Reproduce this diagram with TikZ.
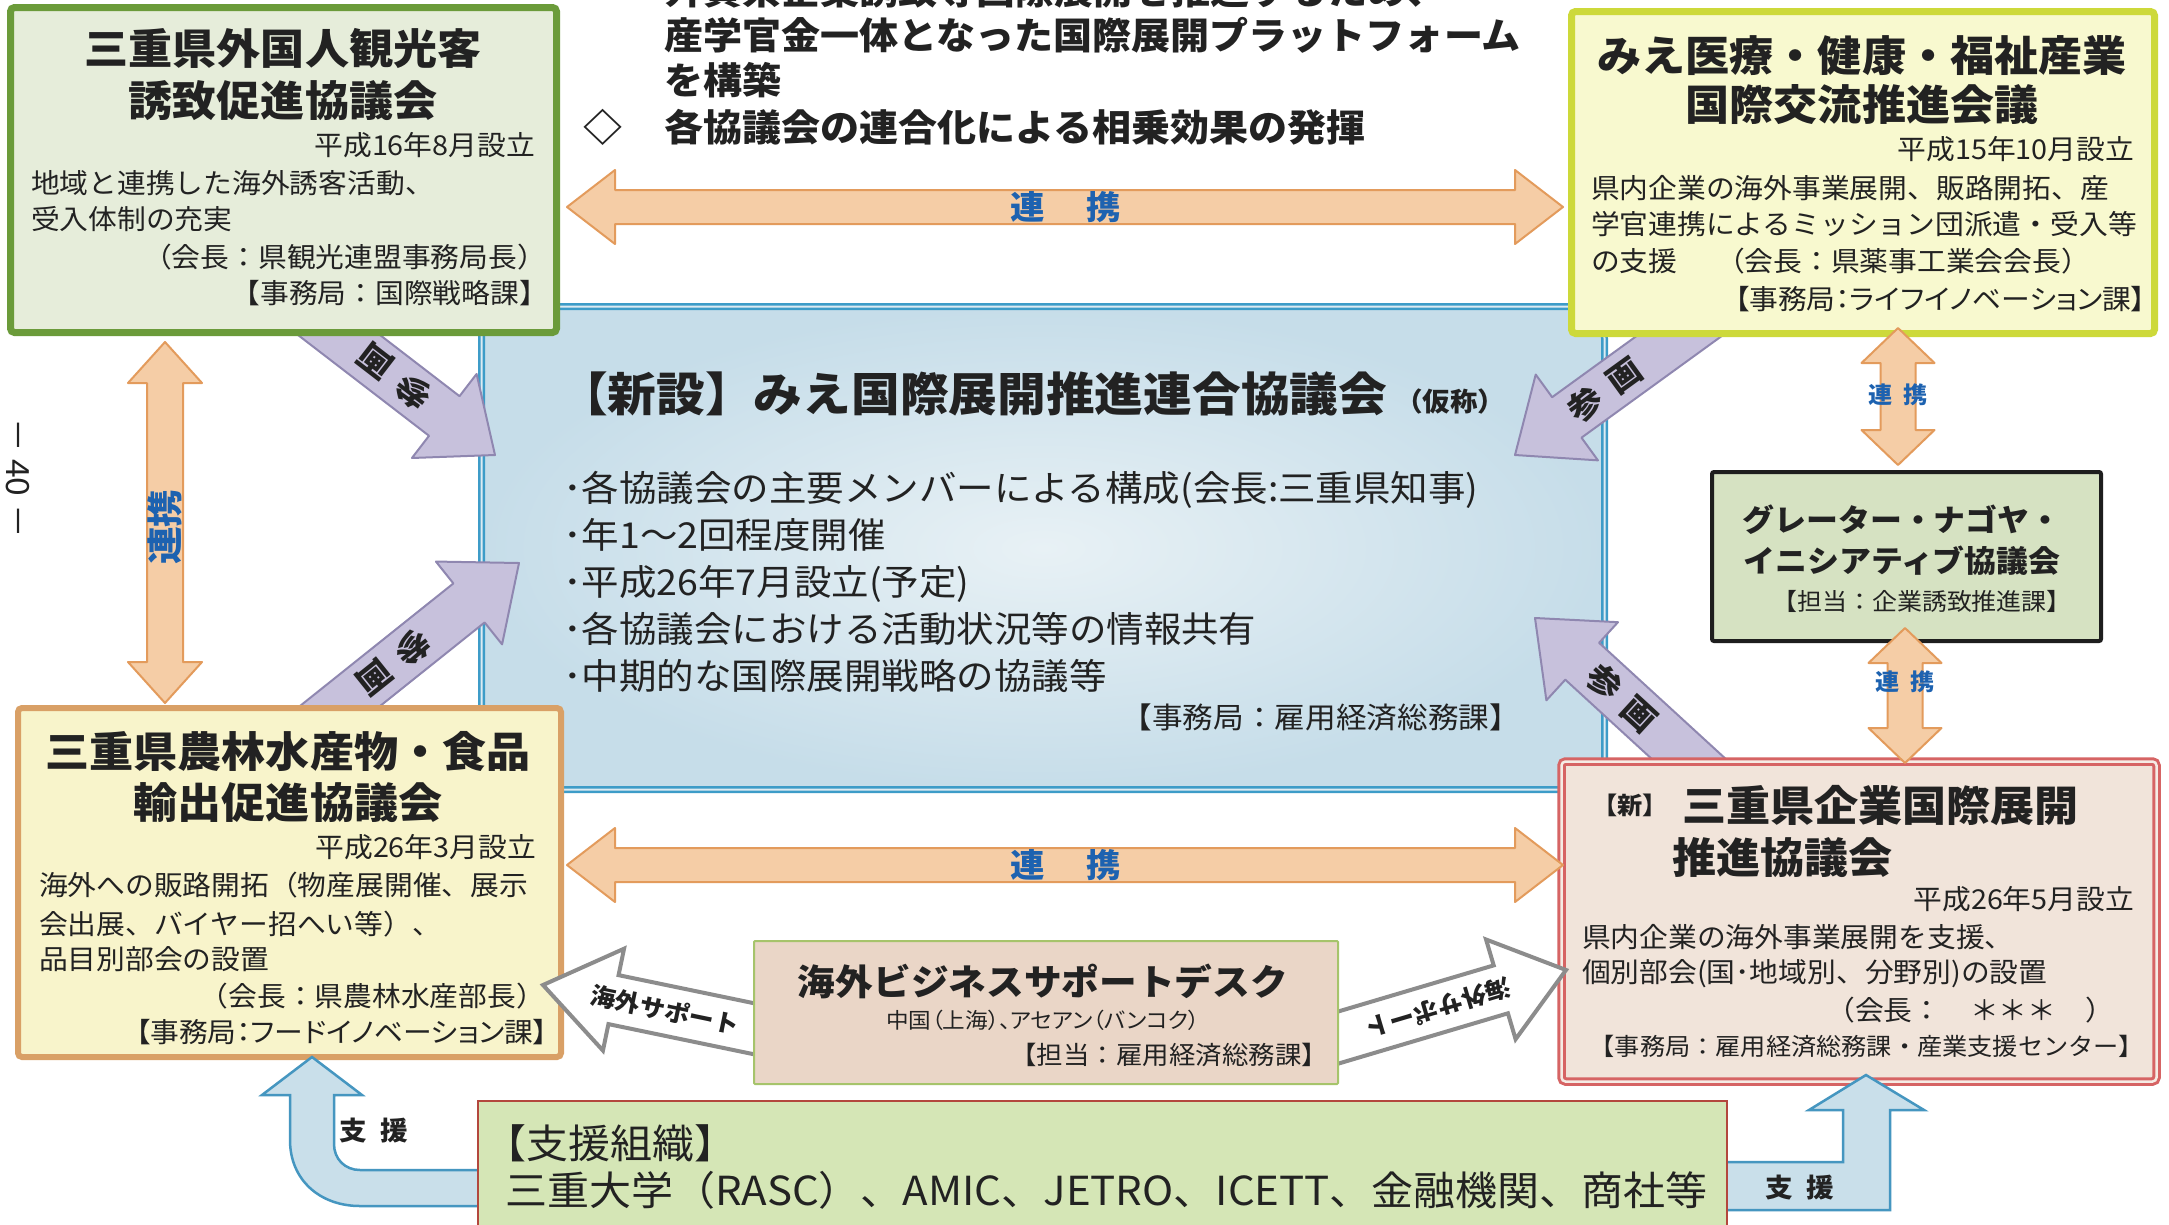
\documentclass[tikz,border=0pt]{standalone}
\usepackage{fontspec}
\newfontfamily\jp[FakeStretch=1.05]{Noto Sans CJK JP}
\newfontfamily\jpp[FakeStretch=1.05,RawFeature=+palt]{Noto Sans CJK JP}
\usetikzlibrary{calc}
\newcommand\fs[1]{\fontsize{#1}{#1}\selectfont}
\definecolor{ink}{HTML}{222222}
\definecolor{lblue}{HTML}{1D62B0}
\definecolor{b1d}{HTML}{6B9B3A}\definecolor{b1f}{HTML}{E6EDDA}
\definecolor{b2d}{HTML}{CDD93A}\definecolor{b2f}{HTML}{F8F9CF}
\definecolor{b3d}{HTML}{D9A066}\definecolor{b3f}{HTML}{F8F4CB}
\definecolor{b4d}{HTML}{D66464}\definecolor{b4f}{HTML}{F1E4DA}
\definecolor{ngd}{HTML}{1E1E1E}\definecolor{ngf}{HTML}{D6E2C2}
\definecolor{dkd}{HTML}{A6C46B}\definecolor{dkf}{HTML}{EAD6C7}
\definecolor{spd}{HTML}{B3473D}\definecolor{spf}{HTML}{D5E6B6}
\definecolor{cend}{HTML}{3D9CC8}\definecolor{cenin}{HTML}{E8F1F5}\definecolor{cenout}{HTML}{C6DDE9}
\definecolor{orf}{HTML}{F5CDA6}\definecolor{ord}{HTML}{E39B5C}
\definecolor{puf}{HTML}{C7C1DC}\definecolor{pud}{HTML}{8F87B0}
\definecolor{whd}{HTML}{8C8C8C}
\definecolor{blf}{HTML}{C9DFEA}\definecolor{bld}{HTML}{4596C0}
% single block arrow: style, name, tail, tip, shaft half width, head half width, head length
\newcommand\blockarrow[7]{%
  \coordinate (#2-h) at ($(#4)!#7!(#3)$);
  \draw[#1] ($(#3)!#5!90:(#4)$) -- ($(#2-h)!#5!90:(#4)$) -- ($(#2-h)!#6!90:(#4)$) -- (#4)
    -- ($(#2-h)!#6!-90:(#4)$) -- ($(#2-h)!#5!-90:(#4)$) -- ($(#3)!#5!-90:(#4)$) -- cycle;}
% double block arrow
\newcommand\dblarrow[7]{%
  \coordinate (#2-ha) at ($(#3)!#7!(#4)$);
  \coordinate (#2-hb) at ($(#4)!#7!(#3)$);
  \draw[#1] (#3) -- ($(#2-ha)!#6!90:(#4)$) -- ($(#2-ha)!#5!90:(#4)$) -- ($(#2-hb)!#5!-90:(#3)$)
    -- ($(#2-hb)!#6!-90:(#3)$) -- (#4) -- ($(#2-hb)!#6!90:(#3)$) -- ($(#2-hb)!#5!90:(#3)$)
    -- ($(#2-ha)!#5!-90:(#4)$) -- ($(#2-ha)!#6!-90:(#4)$) -- cycle;}
\begin{document}
\begin{tikzpicture}[x=1pt,y=-1pt,
  tx/.style={inner sep=0pt, outer sep=0pt, text=ink},
  ttl/.style={tx, font=\jp\bfseries\fs{42}},
  bod/.style={tx, font=\jp\fs{27.4}},
  bodp/.style={tx, font=\jpp\fs{27.4}},
  topt/.style={tx, font=\jp\bfseries\fs{37.2}},
  cttl/.style={tx, font=\jp\bfseries\fs{46.4}},
  cbul/.style={tx, font=\jp\fs{35.7}},
  lab/.style={tx, text=lblue, font=\jp\bfseries\fs{32.8}},
  slab/.style={tx, text=lblue, font=\jp\bfseries\fs{23}},
  plab/.style={tx, font=\jp\bfseries\fs{32.8}},
  wlab/.style={tx, font=\jp\bfseries\fs{24}},
  slbl/.style={tx, font=\jp\bfseries\fs{26.3}},
  boxbase/.style={inner sep=0pt, outer sep=0pt, anchor=north west, rounded corners=4pt},
  orarrow/.style={fill=orf, draw=ord, line width=2pt, line join=round},
  purarrow/.style={fill=puf, draw=pud, line width=2pt, line join=round},
  wharrow/.style={fill=white, draw=whd, line width=4pt, line join=miter},
  blarrow/.style={fill=blf, draw=bld, line width=2.5pt, line join=miter},
]
\useasboundingbox (0,0) rectangle (2169,1224);
\fill[white] (0,0) rectangle (2169,1224);

% central box
\node[boxbase, rounded corners=32pt, draw=cend, line width=2.5pt, double=cenout!60!white, double distance=2pt,
  inner color=cenin, outer color=cenout, minimum width=1123pt, minimum height=483pt] (cen) at (481.5,306.5) {};

% purple arrows (参画)
\coordinate (pTLt) at (300,305); \coordinate (pTLh) at (495,455);
\coordinate (pBLt) at (310,730); \coordinate (pBLh) at (519,563);
\coordinate (pTRt) at (1715,310); \coordinate (pTRh) at (1515,455);
\coordinate (pBRt) at (1715,783); \coordinate (pBRh) at (1535,618);
\blockarrow{purarrow}{pTL}{pTLt}{pTLh}{25pt}{53pt}{64pt}
\blockarrow{purarrow}{pBL}{pBLt}{pBLh}{25pt}{53pt}{64pt}
\blockarrow{purarrow}{pTR}{pTRt}{pTRh}{25pt}{53pt}{64pt}
\blockarrow{purarrow}{pBR}{pBRt}{pBRh}{25pt}{53pt}{64pt}
\node[plab, rotate=142.4] (lTL) at (394,377) {参\hspace{14pt}画};
\node[plab, rotate=-141.4] (lBL) at (394,663) {参\hspace{14pt}画};
\node[plab, rotate=35.9] (lTR) at (1605,390) {参\hspace{14pt}画};
\node[plab, rotate=-42.5] (lBR) at (1622,698) {参\hspace{14pt}画};

% outer boxes
\node[boxbase, draw=b1d, line width=7pt, fill=b1f, minimum width=546pt, minimum height=325pt] (b1) at (10.5,7.5) {};
\node[boxbase, draw=b2d, line width=7pt, fill=b2f, minimum width=583pt, minimum height=322pt] (b2) at (1571.5,11.5) {};
\node[boxbase, draw=b3d, line width=6pt, fill=b3f, minimum width=543pt, minimum height=349pt] (b3) at (18,708) {};
\node[boxbase, draw=b4d, line width=3pt, double=b4f!70!white, double distance=2.5pt, fill=b4f, minimum width=595pt, minimum height=320pt] (b4) at (1561.5,761.5) {};
\node[boxbase, rounded corners=2pt, draw=ngd, line width=4pt, fill=ngf, minimum width=389pt, minimum height=169pt] (nag) at (1712,472) {};

% white arrows (海外サポート)
\coordinate (wLt) at (760,1030); \coordinate (wLh) at (543,985);
\coordinate (wRt) at (1330,1040); \coordinate (wRh) at (1566,970);
\blockarrow{wharrow}{wL}{wLt}{wLh}{25pt}{52pt}{72pt}
\blockarrow{wharrow}{wR}{wRt}{wRh}{25pt}{52pt}{68pt}
\node[wlab, rotate=-11.7] (lwL) at (665,1010) {海外サポート};
\node[wlab, rotate=-163.5] (lwR) at (1438,1008) {海外サポート};

% desk
\node[boxbase, rounded corners=1pt, draw=dkd, line width=2pt, fill=dkf, minimum width=584pt, minimum height=143pt] (desk) at (754,941) {};

% blue support arrows
\coordinate (sL1) at (495,1170); \coordinate (sL2) at (495,1206);
\coordinate (sR1) at (1715,1162); \coordinate (sR2) at (1715,1210);
\draw[blarrow] (sL1) -- (360,1170) .. controls (345,1170) and (334,1159) .. (334,1144) -- (334,1095)
  -- (362,1095) -- (312,1057) -- (262,1095) -- (290,1095) -- (290,1140)
  .. controls (290,1180) and (320,1206) .. (360,1206) -- (sL2) -- cycle;
\draw[blarrow] (sR1) -- (1843,1162) -- (1843,1110) -- (1809,1110) -- (1866,1075) -- (1924,1110)
  -- (1890,1110) -- (1890,1210) -- (sR2) -- cycle;
\node[slbl] (lsL) at (374,1131) {支\hspace{14pt}援};
\node[slbl] (lsR) at (1800,1188) {支\hspace{14pt}援};

% support box
\node[boxbase, rounded corners=0pt, draw=spd, line width=2pt, fill=spf, minimum width=1249pt, minimum height=200pt] (sup) at (478,1101) {};

% orange arrows (連携)
\coordinate (oT1) at (567,207); \coordinate (oT2) at (1563,207);
\coordinate (oB1) at (567,865); \coordinate (oB2) at (1563,865);
\coordinate (oL1) at (165,342); \coordinate (oL2) at (165,703);
\coordinate (oR1) at (1898,328); \coordinate (oR2) at (1898,465);
\coordinate (oS1) at (1905,628); \coordinate (oS2) at (1905,763);
\dblarrow{orarrow}{oT}{oT1}{oT2}{17pt}{37pt}{48pt}
\dblarrow{orarrow}{oB}{oB1}{oB2}{17pt}{37pt}{48pt}
\dblarrow{orarrow}{oL}{oL1}{oL2}{18pt}{37pt}{41pt}
\dblarrow{orarrow}{oR}{oR1}{oR2}{17.5pt}{36.5pt}{35pt}
\dblarrow{orarrow}{oS}{oS1}{oS2}{17.5pt}{36.5pt}{35pt}
\node[lab] (loT) at (1066,207) {連\hspace{42pt}携};
\node[lab] (loB) at (1066,865) {連\hspace{42pt}携};
\node[lab, font=\jp\bfseries\fs{36}, rotate=90] (loL) at (165,527) {連携};
\node[slab] (loR) at (1898,395) {連\hspace{10pt}携};
\node[slab] (loS) at (1905,682) {連\hspace{10pt}携};

% page number
\node[tx, font=\jp\fs{32}, rotate=-90] (pg) at (18,478) {－ 40 －};

% top text
\node[topt, anchor=base west] (tp1) at (664,4) {外資系企業誘致等国際展開を推進するため、};
\node[topt, anchor=base west] (tp2) at (664,49) {産学官金一体となった国際展開プラットフォーム};
\node[topt, anchor=base west] (tp3) at (664,94) {を構築};
\node[topt, anchor=base west] (tpd) at (583,141) {◇};
\node[topt, anchor=base west] (tp4) at (664,141) {各協議会の連合化による相乗効果の発揮};

% box 1 text
\node[ttl, anchor=base] (b1t1) at (283,64) {三重県外国人観光客};
\node[ttl, anchor=base] (b1t2) at (283,116) {誘致促進協議会};
\node[bod, anchor=base east] (b1t3) at (535,155.4) {平成16年8月設立};
\node[bod, anchor=base west] (b1t4) at (31,193.4) {地域と連携した海外誘客活動、};
\node[bod, anchor=base west] (b1t5) at (31,229.4) {受入体制の充実};
\node[bod, anchor=base east] (b1t6) at (546,267.4) {（会長：県観光連盟事務局長）};
\node[bod, anchor=base east] (b1t7) at (548,303.4) {【事務局：国際戦略課】};

% box 2 text
\node[ttl, anchor=base] (b2t1) at (1862,71) {みえ医療・健康・福祉産業};
\node[ttl, anchor=base] (b2t2) at (1862,120) {国際交流推進会議};
\node[bod, anchor=base east] (b2t3) at (2134,159.4) {平成15年10月設立};
\node[bod, anchor=base west] (b2t4) at (1591,198.4) {県内企業の海外事業展開、販路開拓、産};
\node[bod, anchor=base west] (b2t5) at (1591,234.4) {学官連携によるミッション団派遣・受入等};
\node[bod, anchor=base west] (b2t6) at (1591,271.4) {の支援};
\node[bod, anchor=base west] (b2t7) at (1716,271.4) {（会長：県薬事工業会会長）};
\node[bodp, anchor=base east] (b2t8) at (2146,309.4) {【事務局：ライフイノベーション課】};

% central text
\node[cttl, anchor=base west] (ct1) at (559,411.5) {【新設】みえ国際展開推進連合協議会};
\node[tx, font=\jp\bfseries\fs{26.3}, anchor=base west] (ct2) at (1395,411.5) {（仮称）};
\node[cbul, anchor=base west] (cb1) at (563,501.6) {･各協議会の主要メンバーによる構成(会長:三重県知事)};
\node[cbul, anchor=base west] (cb2) at (563,548.6) {･年1～2回程度開催};
\node[cbul, anchor=base west] (cb3) at (563,595.6) {･平成26年7月設立(予定)};
\node[cbul, anchor=base west] (cb4) at (563,642.6) {･各協議会における活動状況等の情報共有};
\node[cbul, anchor=base west] (cb5) at (563,689.6) {･中期的な国際展開戦略の協議等};
\node[tx, font=\jp\fs{29.2}, anchor=base east] (ct3) at (1520,728) {【事務局：雇用経済総務課】};

% nagoya text
\node[tx, font=\jp\bfseries\fs{30.4}, anchor=base] (ng1) at (1902,531.6) {グレーター・ナゴヤ・};
\node[tx, font=\jp\bfseries\fs{30.4}, anchor=base] (ng2) at (1902,572.6) {イニシアティブ協議会};
\node[tx, font=\jp\fs{23.8}, anchor=base] (ng3) at (1922,610) {【担当：企業誘致推進課】};

% box 3 text
\node[ttl, anchor=base] (b3t1) at (288,767) {三重県農林水産物・食品};
\node[ttl, anchor=base] (b3t2) at (288,818) {輸出促進協議会};
\node[bod, anchor=base east] (b3t3) at (536,857.4) {平成26年3月設立};
\node[bod, anchor=base west] (b3t4) at (39,895.4) {海外への販路開拓（物産展開催、展示};
\node[bod, anchor=base west] (b3t5) at (39,934.4) {会出展、バイヤー招へい等）、};
\node[bod, anchor=base west] (b3t6) at (39,969.4) {品目別部会の設置};
\node[bod, anchor=base east] (b3t7) at (545,1006.4) {（会長：県農林水産部長）};
\node[bodp, anchor=base east] (b3t8) at (548,1042.4) {【事務局：フードイノベーション課】};

% box 4 text
\node[tx, font=\jp\bfseries\fs{24}, anchor=base west] (b4t0) at (1592,814) {【新】};
\node[ttl, anchor=base west] (b4t1) at (1682,821) {三重県企業国際展開};
\node[ttl, anchor=base west] (b4t2) at (1672,873) {推進協議会};
\node[bod, anchor=base east] (b4t3) at (2134,909.4) {平成26年5月設立};
\node[bod, anchor=base west] (b4t4) at (1582,947.4) {県内企業の海外事業展開を支援、};
\node[bod, anchor=base west] (b4t5) at (1582,982.4) {個別部会(国･地域別、分野別)の設置};
\node[bod, anchor=base east] (b4t6) at (2114,1020.4) {（会長：　＊＊＊　）};
\node[tx, font=\jp\fs{24}, anchor=base east] (b4t7) at (2144,1055) {【事務局：雇用経済総務課・産業支援センター】};

% desk text
\node[tx, font=\jp\bfseries\fs{35.9}, anchor=base] (dk1) at (1043,995.5) {海外ビジネスサポートデスク};
\node[tx, font=\jpp\fs{21.5}, anchor=base] (dk2) at (1043,1028) {中国（上海）、アセアン（バンコク）};
\node[tx, font=\jp\fs{25.2}, anchor=base east] (dk3) at (1328,1064.5) {【担当：雇用経済総務課】};

% support text
\node[tx, font=\jp\fs{40}, anchor=base west] (sp1) at (484,1158) {【支援組織】};
\node[tx, font=\jp\fs{40}, anchor=base west] (sp2) at (505,1205) {三重大学（RASC）、AMIC、JETRO、ICETT、金融機関、商社等};
\end{tikzpicture}
\end{document}
